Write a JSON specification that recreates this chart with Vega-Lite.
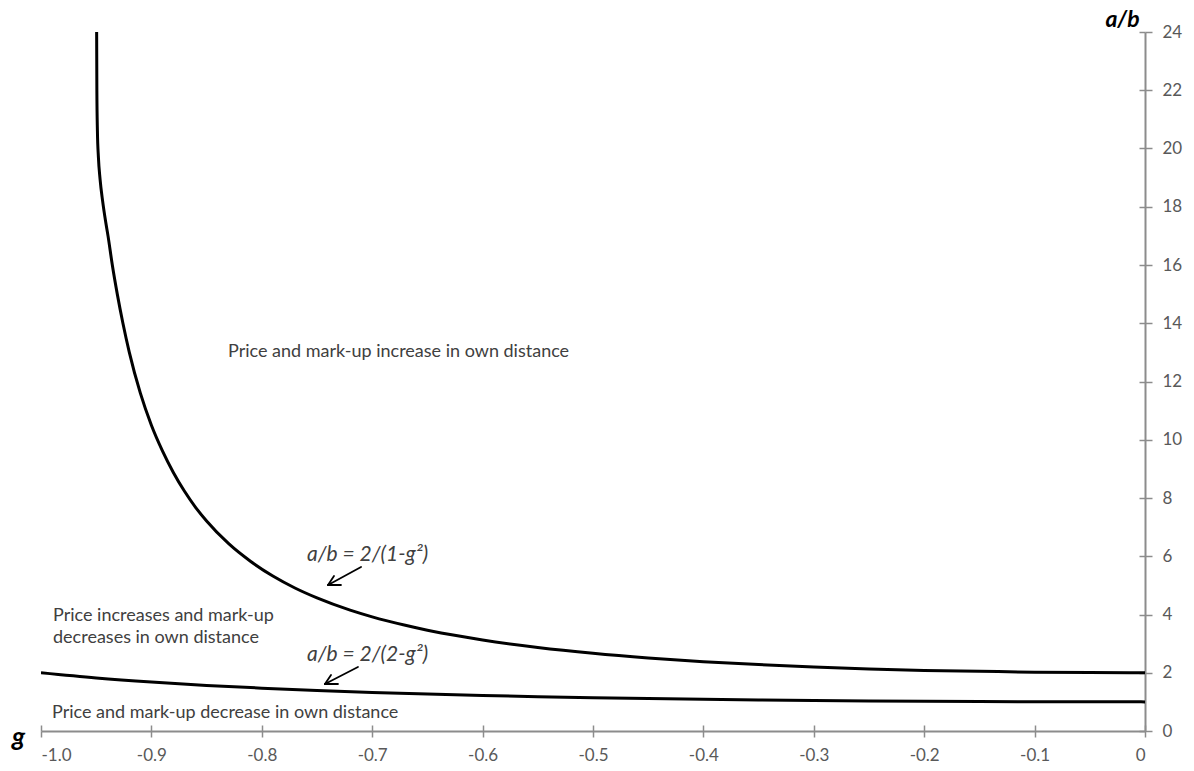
{
  "$schema": "https://vega.github.io/schema/vega-lite/v6.json",
  "width": 1104,
  "height": 699,
  "autosize": {"type": "none"},
  "padding": {"left": 41, "top": 32, "right": 49, "bottom": 40},
  "background": "white",
  "config": {"view": {"stroke": null}, "font": "Lato"},
  "datasets": {
    "curves": [
      {"g": -0.9496, "v": 24, "curve": "upper"},
      {"g": -0.9494, "v": 22, "curve": "upper"},
      {"g": -0.9489, "v": 20.6, "curve": "upper"},
      {"g": -0.9480, "v": 19.7, "curve": "upper"},
      {"g": -0.9465, "v": 18.95, "curve": "upper"},
      {"g": -0.9442, "v": 18.2, "curve": "upper"},
      {"g": -0.9415, "v": 17.5, "curve": "upper"},
      {"g": -0.9393, "v": 17, "curve": "upper"},
      {"g": -0.9354, "v": 16, "curve": "upper"},
      {"g": -0.9309, "v": 15, "curve": "upper"},
      {"g": -0.9258, "v": 14, "curve": "upper"},
      {"g": -0.92, "v": 13.0, "curve": "upper"},
      {"g": -0.91, "v": 11.6, "curve": "upper"},
      {"g": -0.90, "v": 10.5, "curve": "upper"},
      {"g": -0.89, "v": 9.62, "curve": "upper"},
      {"g": -0.88, "v": 8.87, "curve": "upper"},
      {"g": -0.87, "v": 8.23, "curve": "upper"},
      {"g": -0.86, "v": 7.68, "curve": "upper"},
      {"g": -0.85, "v": 7.21, "curve": "upper"},
      {"g": -0.83, "v": 6.43, "curve": "upper"},
      {"g": -0.81, "v": 5.82, "curve": "upper"},
      {"g": -0.79, "v": 5.32, "curve": "upper"},
      {"g": -0.77, "v": 4.91, "curve": "upper"},
      {"g": -0.75, "v": 4.57, "curve": "upper"},
      {"g": -0.72, "v": 4.15, "curve": "upper"},
      {"g": -0.70, "v": 3.92, "curve": "upper"},
      {"g": -0.67, "v": 3.63, "curve": "upper"},
      {"g": -0.65, "v": 3.46, "curve": "upper"},
      {"g": -0.62, "v": 3.25, "curve": "upper"},
      {"g": -0.60, "v": 3.125, "curve": "upper"},
      {"g": -0.55, "v": 2.87, "curve": "upper"},
      {"g": -0.50, "v": 2.67, "curve": "upper"},
      {"g": -0.45, "v": 2.51, "curve": "upper"},
      {"g": -0.40, "v": 2.38, "curve": "upper"},
      {"g": -0.35, "v": 2.28, "curve": "upper"},
      {"g": -0.30, "v": 2.20, "curve": "upper"},
      {"g": -0.25, "v": 2.13, "curve": "upper"},
      {"g": -0.20, "v": 2.08, "curve": "upper"},
      {"g": -0.15, "v": 2.05, "curve": "upper"},
      {"g": -0.10, "v": 2.02, "curve": "upper"},
      {"g": -0.05, "v": 2.005, "curve": "upper"},
      {"g": 0.0, "v": 2.0, "curve": "upper"},
      {"g": -1.0, "v": 2.0, "curve": "lower"},
      {"g": -0.95, "v": 1.822, "curve": "lower"},
      {"g": -0.90, "v": 1.681, "curve": "lower"},
      {"g": -0.85, "v": 1.566, "curve": "lower"},
      {"g": -0.80, "v": 1.471, "curve": "lower"},
      {"g": -0.75, "v": 1.391, "curve": "lower"},
      {"g": -0.70, "v": 1.325, "curve": "lower"},
      {"g": -0.65, "v": 1.268, "curve": "lower"},
      {"g": -0.60, "v": 1.22, "curve": "lower"},
      {"g": -0.55, "v": 1.178, "curve": "lower"},
      {"g": -0.50, "v": 1.143, "curve": "lower"},
      {"g": -0.45, "v": 1.113, "curve": "lower"},
      {"g": -0.40, "v": 1.087, "curve": "lower"},
      {"g": -0.35, "v": 1.065, "curve": "lower"},
      {"g": -0.30, "v": 1.047, "curve": "lower"},
      {"g": -0.25, "v": 1.032, "curve": "lower"},
      {"g": -0.20, "v": 1.02, "curve": "lower"},
      {"g": -0.15, "v": 1.011, "curve": "lower"},
      {"g": -0.10, "v": 1.005, "curve": "lower"},
      {"g": -0.05, "v": 1.001, "curve": "lower"},
      {"g": 0.0, "v": 1.0, "curve": "lower"}
    ],
    "notes": [
      {"g": -0.8306, "v": 12.84, "text": "Price and mark-up increase in own distance"},
      {"g": -0.9891, "v": 3.777, "text": "Price increases and mark-up"},
      {"g": -0.9891, "v": 3.021, "text": "decreases in own distance"},
      {"g": -0.990, "v": 0.446, "text": "Price and mark-up decrease in own distance"}
    ],
    "formulas": [
      {"g": -0.7591, "v": 5.837, "text": "a/b = 2/(1-g²)"},
      {"g": -0.7591, "v": 2.403, "text": "a/b = 2/(2-g²)"}
    ],
    "arrows": [
      {"g": -0.7101, "v": 5.631, "g2": -0.7400, "v2": 5.013},
      {"g": -0.7346, "v": 5.322, "g2": -0.7400, "v2": 5.013},
      {"g": -0.7283, "v": 5.013, "g2": -0.7400, "v2": 5.013},
      {"g": -0.7129, "v": 2.197, "g2": -0.7428, "v2": 1.614},
      {"g": -0.7373, "v": 1.923, "g2": -0.7428, "v2": 1.614},
      {"g": -0.7310, "v": 1.614, "g2": -0.7428, "v2": 1.614}
    ]
  },
  "resolve": {"axis": {"x": "independent", "y": "independent"}},
  "layer": [
    {
      "layer": [
        {
          "data": {"name": "curves"},
          "mark": {"type": "line", "color": "black", "strokeWidth": 3, "interpolate": "monotone", "clip": true},
          "encoding": {
            "x": {
              "field": "g", "type": "quantitative",
              "scale": {"domain": [-1, 0], "nice": false, "zero": false},
              "axis": {
                "orient": "bottom",
                "values": [-1, -0.9, -0.8, -0.7, -0.6, -0.5, -0.4, -0.3, -0.2, -0.1, 0],
                "labelExpr": "datum.value == 0 ? '0' : (datum.value < 0 ? '-' : '') + format(abs(datum.value), '.1f')",
                "grid": false,
                "domainColor": "#8c8c8c", "domainWidth": 2,
                "tickColor": "#8c8c8c", "tickWidth": 1.5, "tickSize": 6,
                "labelColor": "#595959", "labelFontSize": 17, "labelPadding": 10,
                "labelFont": "Lato",
                "title": "g", "titleFont": "Lato", "titleFontSize": 26, "titleFontWeight": "bold",
                "titleFontStyle": "italic", "titleColor": "black",
                "titleX": -23, "titleY": 14, "titleAlign": "center", "titleBaseline": "alphabetic", "titleAngle": 0
              }
            },
            "y": {
              "field": "v", "type": "quantitative",
              "scale": {"domain": [0, 24], "nice": false},
              "axis": {
                "orient": "right",
                "values": [0, 2, 4, 6, 8, 10, 12, 14, 16, 18, 20, 22, 24],
                "grid": false,
                "domainColor": "#8c8c8c", "domainWidth": 2,
                "tickColor": "#8c8c8c", "tickWidth": 1.5, "tickSize": 7,
                "labelColor": "#595959", "labelFontSize": 17, "labelPadding": 10,
                "labelFont": "Lato",
                "title": "a/b", "titleFont": "Lato", "titleFontSize": 23, "titleFontWeight": "bold",
                "titleFontStyle": "italic", "titleColor": "black", "titleAngle": 0,
                "titleX": -23, "titleY": -6, "titleAlign": "center", "titleBaseline": "alphabetic"
              }
            },
            "detail": {"field": "curve"}
          }
        },
        {
          "data": {"name": "notes"},
          "mark": {"type": "text", "align": "left", "baseline": "alphabetic", "fontSize": 18, "color": "#404040", "font": "Lato"},
          "encoding": {
            "x": {"field": "g", "type": "quantitative"},
            "y": {"field": "v", "type": "quantitative"},
            "text": {"field": "text"}
          }
        },
        {
          "data": {"name": "formulas"},
          "mark": {"type": "text", "align": "left", "baseline": "alphabetic", "fontSize": 21, "fontStyle": "italic", "color": "#404040", "font": "Lato"},
          "encoding": {
            "x": {"field": "g", "type": "quantitative"},
            "y": {"field": "v", "type": "quantitative"},
            "text": {"field": "text"}
          }
        },
        {
          "data": {"name": "arrows"},
          "mark": {"type": "rule", "color": "black", "strokeWidth": 1.8, "strokeCap": "round"},
          "encoding": {
            "x": {"field": "g", "type": "quantitative"},
            "y": {"field": "v", "type": "quantitative"},
            "x2": {"field": "g2"},
            "y2": {"field": "v2"}
          }
        }
      ]
    },
    {
      "data": {"name": "curves"},
      "mark": {"type": "line", "opacity": 0},
      "encoding": {
        "x": {
          "field": "g", "type": "quantitative",
          "axis": {
            "orient": "bottom", "offset": -6,
            "values": [-1, -0.9, -0.8, -0.7, -0.6, -0.5, -0.4, -0.3, -0.2, -0.1, 0],
            "domain": false, "labels": false, "grid": false, "title": null,
            "tickColor": "#8c8c8c", "tickWidth": 1.5, "tickSize": 6
          }
        },
        "y": {
          "field": "v", "type": "quantitative",
          "axis": {
            "orient": "right", "offset": -6,
            "values": [0, 2, 4, 6, 8, 10, 12, 14, 16, 18, 20, 22, 24],
            "domain": false, "labels": false, "grid": false, "title": null,
            "tickColor": "#8c8c8c", "tickWidth": 1.5, "tickSize": 6
          }
        },
        "detail": {"field": "curve"}
      }
    }
  ]
}
